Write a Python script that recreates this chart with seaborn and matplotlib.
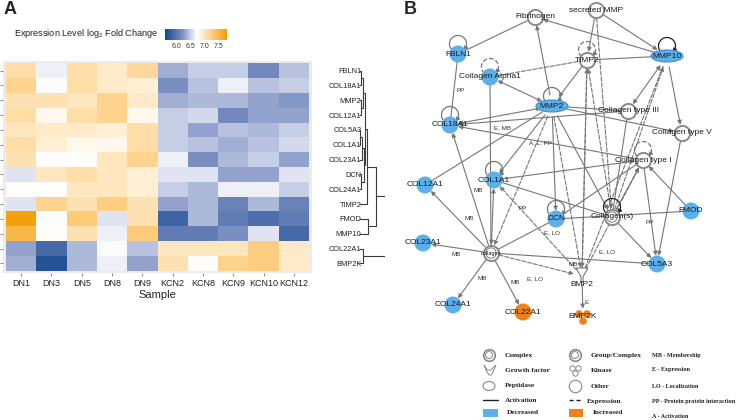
import numpy as np
import pandas as pd
import matplotlib
matplotlib.use('Agg')
import matplotlib.pyplot as plt
import seaborn as sns
from matplotlib.colors import LinearSegmentedColormap
from matplotlib.patches import Arc, Ellipse, Rectangle

# ---------- Panel A data ----------
samples = ['DN1', 'DN3', 'DN5', 'DN8', 'DN9', 'KCN2', 'KCN8', 'KCN9', 'KCN10', 'KCN12']
genes = ['FBLN1', 'COL18A1', 'MMP2', 'COL12A1', 'COL5A3', 'COL1A1', 'COL23A1',
         'DCN', 'COL24A1', 'TIMP2', 'FMOD', 'MMP10', 'COL22A1', 'BMP2K']
expr = [
    [7.10, 6.65, 7.10, 6.95, 7.15, 6.35, 6.50, 6.50, 6.15, 6.45],
    [7.20, 6.70, 7.10, 6.95, 6.90, 6.20, 6.45, 6.65, 6.45, 6.50],
    [7.05, 7.05, 7.00, 7.20, 6.95, 6.35, 6.40, 6.40, 6.30, 6.25],
    [7.10, 6.80, 7.10, 7.20, 6.80, 6.50, 6.55, 6.15, 6.30, 6.30],
    [7.00, 6.95, 6.95, 6.90, 7.10, 6.50, 6.30, 6.45, 6.40, 6.50],
    [7.10, 6.90, 6.80, 6.80, 7.10, 6.50, 6.45, 6.35, 6.45, 6.55],
    [7.05, 6.75, 6.75, 7.00, 7.20, 6.65, 6.20, 6.40, 6.50, 6.30],
    [6.60, 7.00, 7.10, 7.00, 6.90, 6.60, 6.60, 6.30, 6.30, 6.60],
    [6.75, 6.75, 7.00, 7.00, 6.90, 6.50, 6.40, 6.65, 6.65, 6.50],
    [6.60, 7.20, 7.05, 7.25, 7.05, 6.30, 6.40, 6.10, 6.40, 6.10],
    [7.75, 6.70, 7.30, 6.60, 7.05, 5.85, 6.40, 6.05, 5.95, 6.05],
    [7.50, 6.75, 7.05, 6.65, 7.30, 6.05, 6.05, 6.20, 6.60, 5.90],
    [6.30, 5.90, 6.40, 6.70, 6.45, 7.00, 7.00, 7.00, 7.25, 6.95],
    [6.35, 5.70, 6.40, 6.65, 6.30, 7.05, 6.75, 7.20, 7.25, 6.95],
]
cbar_ticks = [6.0, 6.5, 7.0, 7.5]

# dendrogram merges (scipy style: ids >= 14 are earlier merges)
merge_a = [4, 0, 2, 7, 14, 15, 12, 18, 19, 22, 10, 23, 25]
merge_b = [5, 1, 3, 8, 6, 16, 13, 17, 21, 9, 11, 24, 20]
merge_h = [0.3, 0.6, 0.6, 0.8, 1.0, 1.2, 1.3, 1.6, 1.9, 2.6, 3.1, 5.6, 10.0]

# ---------- Panel B data ----------
node_names = ['Fibrinogen', 'secreted MMP', 'FBLN1', 'Collagen Alpha1', 'TIMP2', 'MMP10',
              'MMP2', 'COL18A1', 'Collagen type III', 'Collagen type V', 'Collagen type I',
              'COL1A1', 'COL12A1', 'DCN', 'Collagen(s)', 'FMOD', 'COL23A1', 'collagen',
              'COL5A3', 'BMP2', 'COL24A1', 'COL22A1', 'BMP2K']
node_x = [535, 596, 458, 490, 587, 667, 552, 450, 628, 682, 643,
          494, 425, 556, 612, 691, 423, 491, 657, 582, 453, 523, 583]
node_y = [17, 10, 54, 77, 60, 56, 106, 125, 111, 133, 160,
          180, 185, 219, 217, 211, 243, 253, 264, 276, 305, 312, 317]
node_kind = ['other', 'other', 'dec', 'dec', 'other', 'pep', 'pep', 'dec', 'other', 'other', 'other',
             'dec', 'dec', 'dec', 'group', 'dec', 'dec', 'group', 'dec', 'gf', 'dec', 'inc', 'kin']

edge_src = ['FBLN1', 'FBLN1', 'MMP10', 'MMP2', 'secreted MMP', 'secreted MMP', 'secreted MMP',
            'TIMP2', 'TIMP2', 'Collagen Alpha1', 'Collagen Alpha1', 'Collagen Alpha1', 'MMP2',
            'MMP2', 'MMP2', 'MMP10', 'MMP10', 'Collagen(s)', 'Collagen(s)', 'BMP2',
            'Collagen type III', 'Collagen type III', 'Collagen type I', 'collagen', 'MMP2',
            'COL1A1', 'collagen', 'MMP2', 'COL1A1', 'BMP2', 'collagen', 'collagen', 'collagen',
            'collagen', 'collagen', 'collagen', 'collagen', 'MMP2', 'MMP2', 'DCN', 'DCN', 'MMP2',
            'Collagen(s)', 'Collagen(s)', 'FMOD', 'Collagen type I', 'Collagen type V', 'BMP2',
            'BMP2', 'MMP2', 'TIMP2', 'MMP10']
edge_dst = ['Fibrinogen', 'COL18A1', 'Fibrinogen', 'Fibrinogen', 'MMP10', 'TIMP2', 'Collagen(s)',
            'MMP10', 'MMP2', 'TIMP2', 'MMP2', 'collagen', 'COL18A1',
            'Collagen type V', 'Collagen type III', 'Collagen type III', 'Collagen type V', 'MMP10',
            'TIMP2', 'TIMP2', 'COL18A1', 'Collagen(s)', 'COL18A1', 'COL18A1', 'COL12A1',
            'Collagen type I', 'COL1A1', 'COL1A1', 'Collagen(s)', 'COL1A1', 'COL12A1', 'COL23A1',
            'COL5A3', 'DCN', 'COL24A1', 'COL22A1', 'BMP2', 'collagen', 'DCN', 'Collagen type I',
            'FMOD', 'Collagen(s)', 'Collagen type I', 'COL5A3', 'Collagen type I', 'COL5A3',
            'COL5A3', 'Collagen type I', 'BMP2K', 'BMP2', 'BMP2', 'BMP2']
edge_style = ['-', '-', '->', '->', '->', '->', '-->', '-', '->', '--', '<->', '-', '<->',
              '->', '-', '<->', '->', '-->', '-->', '-->', '->', '-', '->', '->', '-',
              '->', '<->', '->', '-', '-->', '->', '->', '-', '-', '->', '->', '-->', '-->',
              '->', '-', '-', '->', '->', '->', '->', '->', '->', '-->', '->', '-->', '-->', '--']

loop_nodes = ['FBLN1', 'Collagen Alpha1', 'TIMP2', 'MMP2', 'COL18A1', 'MMP10', 'COL1A1',
              'DCN', 'Collagen(s)', 'Collagen type I']
loop_style = ['-', '--', '--', '-', '-', '-', '-', '-', '-', '--']

edge_lbl = ['PP', 'E, MB', 'A, L, PP', 'MB', 'MB', 'PP', 'E, LO', 'MB', 'PP', 'E, LO',
            'MB', 'MB', 'MB', 'E, LO', 'E']
edge_lbl_x = [461, 503, 540, 478, 469, 523, 552, 456, 650, 607, 573, 482, 515, 535, 587]
edge_lbl_y = [90, 128, 143, 190, 219, 208, 233, 255, 222, 252, 265, 279, 283, 279, 302]

legend_col1 = ['Complex', 'Growth factor', 'Peptidase', 'Activation', 'Decreased']
legend_col2 = ['Group/Complex', 'Kinase', 'Other', 'Expression', 'Increased']
legend_col3 = ['MB - Membership', 'E - Expression', 'LO - Localization',
               'PP - Protein protein interaction', 'A - Activation']

# ---------- style ----------
sns.set_theme(style='white')
plt.rcParams['font.family'] = ['Liberation Sans', 'DejaVu Sans']
plt.rcParams['mathtext.default'] = 'regular'

blue = '#5dafe9'
orange = '#f0801c'
edge_col = '#767676'

fig = plt.figure(figsize=(7.41, 4.20), dpi=100)
W, H = 741.0, 420.0

def fax(x0, y0, x1, y1):
    # axes from pixel box (top-left origin)
    return fig.add_axes([x0 / W, 1 - y1 / H, (x1 - x0) / W, (y1 - y0) / H])

# ---------- Panel A: heatmap ----------
ax = fax(3, 61, 312, 273)
cax = fax(165, 29, 227, 40)
cmap = LinearSegmentedColormap.from_list(
    'bo', [(0, '#15468f'), (0.28, '#7d90c2'), (0.51, '#ffffff'), (0.8, '#fdc56a'), (1, '#f29c00')])
df = pd.DataFrame(expr, index=genes, columns=samples)
sns.heatmap(df, ax=ax, cmap=cmap, vmin=5.6, vmax=7.8, linewidths=0,
            xticklabels=True, yticklabels=True,
            cbar_ax=cax, cbar_kws={'orientation': 'horizontal', 'ticks': cbar_ticks})
ax.set_facecolor('#ebebeb')
ax.set_xlim(-0.1, 10.1)
ax.set_ylim(14.15, -0.15)
for s in ax.spines.values():
    s.set_visible(False)
ax.tick_params(axis='x', bottom=True, length=2.5, width=0.6, color='#777', labelsize=6.5, pad=2,
               labelrotation=0, labelcolor='#222')
ax.tick_params(axis='y', left=True, right=False, labelleft=False, labelright=True,
               length=2.5, width=0.6, color='#777', labelsize=5.3, pad=33, labelrotation=0,
               labelcolor='#222')
for t in ax.get_yticklabels():
    t.set_ha('right')
ax.set_xlabel('Sample', fontsize=8, labelpad=1)
ax.set_ylabel('')

cax.tick_params(length=0, labelsize=5, pad=2, labelcolor='#333')
for s in cax.spines.values():
    s.set_visible(False)
fig.text(158 / W, 1 - 34 / H, 'Expression Level log$_2$ Fold Change', ha='right', va='center',
         fontsize=6.6, color='#222')

# dendrogram
dax = fax(359, 61, 385, 273)
n = len(genes)
pos = {i: i + 0.5 for i in range(n)}
hgt = {i: 0.0 for i in range(n)}
for k, (a, b, h) in enumerate(zip(merge_a, merge_b, merge_h)):
    cid = n + k
    for c in (a, b):
        dax.plot([hgt[c], h], [pos[c], pos[c]], color='#3a3a3a', lw=0.8, solid_capstyle='butt')
    dax.plot([h, h], [pos[a], pos[b]], color='#3a3a3a', lw=0.8)
    pos[cid] = (pos[a] + pos[b]) / 2
    hgt[cid] = h
dax.set_xlim(0, 8.6)
dax.set_ylim(14.15, -0.15)
dax.axis('off')

fig.text(4 / W, 1 - 10 / H, 'A', fontsize=13, fontweight='bold', va='center')
fig.text(404 / W, 1 - 10 / H, 'B', fontsize=13, fontweight='bold', va='center')

# ---------- Panel B: network ----------
bx = fax(400, 0, 741, 420)
bx.set_xlim(400, 741)
bx.set_ylim(420, 0)
bx.axis('off')

nodes = pd.DataFrame({'name': node_names, 'x': node_x, 'y': node_y, 'kind': node_kind})
P = {r.name: (r.x, r.y) for r in nodes.itertuples()}
K = dict(zip(node_names, node_kind))

def shrink(name):
    return 8 if K[name] == 'pep' else 6

for s, d, st in zip(edge_src, edge_dst, edge_style):
    ls = '--' if '--' in st else '-'
    if st.startswith('<'):
        arr = '<|-|>'
    elif st.endswith('>'):
        arr = '-|>'
    else:
        arr = '-'
    bx.annotate('', xy=P[d], xytext=P[s],
                arrowprops=dict(arrowstyle=arr, color=edge_col, lw=0.8, ls=ls,
                                shrinkA=shrink(s), shrinkB=shrink(d), mutation_scale=6),
                zorder=1)

for nm, st in zip(loop_nodes, loop_style):
    x, y = P[nm]
    col = '#222' if nm in ('MMP10', 'Collagen(s)') else edge_col
    bx.add_patch(Arc((x, y - 10), 17, 17, theta1=130, theta2=410, color=col, lw=0.9, ls=st, zorder=1))
    ex, ey = x + 8.5 * np.cos(np.radians(50)), y - 10 + 8.5 * np.sin(np.radians(50))
    bx.annotate('', xy=(ex, ey), xytext=(ex + 1.5, ey - 2),
                arrowprops=dict(arrowstyle='-|>', color=col, lw=0.8, mutation_scale=6), zorder=1)

# filled circles
filled = nodes[nodes['kind'].isin(['dec', 'inc'])]
sns.scatterplot(data=filled, x='x', y='y', hue='kind', palette={'dec': blue, 'inc': orange},
                s=150, edgecolor='none', legend=False, ax=bx, zorder=3)
# open / group circles
opn = nodes[nodes['kind'].isin(['other', 'group'])]
bx.scatter(opn['x'], opn['y'], s=120, facecolor='white', edgecolor='#8a8a8a', lw=1.4, zorder=3)
grp = nodes[nodes['kind'] == 'group']
bx.scatter(grp['x'], grp['y'], s=55, facecolor='none', edgecolor='#8a8a8a', lw=0.8, zorder=3)
# peptidase
for r in nodes[nodes['kind'] == 'pep'].itertuples():
    bx.add_patch(Ellipse((r.x, r.y), 32, 12, facecolor=blue, edgecolor='#3c8fd0', lw=0.8, zorder=3))
# growth factor
for r in nodes[nodes['kind'] == 'gf'].itertuples():
    gx = [r.x - 6, r.x - 2, r.x - 1, r.x - 1, r.x + 1, r.x + 1, r.x + 2, r.x + 6]
    gy = [r.y - 8, r.y - 1, r.y + 1, r.y + 6, r.y + 6, r.y + 1, r.y - 1, r.y - 8]
    bx.fill(gx, gy, facecolor='white', edgecolor='#666', lw=0.7, zorder=3)
# kinase
for r in nodes[nodes['kind'] == 'kin'].itertuples():
    bx.scatter([r.x - 4, r.x + 4, r.x], [r.y - 3, r.y - 3, r.y + 4], s=30, color=orange, zorder=3,
               edgecolor='none')

for r in nodes.itertuples():
    ty = r.y + 9 if r.kind == 'gf' else r.y
    fs = 4 if r.name == 'collagen' else 6
    bx.text(r.x, ty, r.name, ha='center', va='center', fontsize=fs, color='#1a1a1a', zorder=4)

for t, x, y in zip(edge_lbl, edge_lbl_x, edge_lbl_y):
    bx.text(x, y, t, ha='center', va='center', fontsize=4.5, color='#333', zorder=4)

# legend
rows_y = [355, 370, 386, 401, 413]
serif = dict(family=['Liberation Serif', 'DejaVu Serif'], fontweight='bold', fontsize=5.3,
             color='#222', va='center')
for i, (t1, t2, t3) in enumerate(zip(legend_col1, legend_col2, legend_col3)):
    y = rows_y[i]
    bx.text(505 if i < 4 else 507, y, t1, **serif)
    bx.text(591 if i < 3 else 587 if i == 3 else 593, y, t2, **serif)
    bx.text(652, y + (3 if i == 4 else 0), t3, **dict(serif, fontsize=4.4))
# legend icons
bx.scatter([489, 575], [355, 355], s=70, facecolor='white', edgecolor='#888', lw=1.2)
bx.scatter([489, 575], [355, 355], s=25, facecolor='none', edgecolor='#888', lw=0.7)
bx.scatter([575], [386], s=80, facecolor='white', edgecolor='#888', lw=0.8)
bx.scatter([572, 578, 575], [368, 368, 373], s=15, facecolor='white', edgecolor='#888', lw=0.7)
bx.fill([484, 487, 489, 491, 493, 496, 491, 487], [365, 372, 375, 375, 372, 365, 370, 370],
        facecolor='white', edgecolor='#888', lw=0.7)
bx.add_patch(Ellipse((489, 386), 12, 9, facecolor='white', edgecolor='#888', lw=0.8))
bx.plot([483, 498], [400, 400], color='#222', lw=1)
bx.plot([569, 583], [400, 400], color='#222', lw=1, ls='--', dashes=(3, 2))
bx.add_patch(Rectangle((483, 409), 15, 8, facecolor=blue, edgecolor='none'))
bx.add_patch(Rectangle((569, 409), 14, 8, facecolor=orange, edgecolor='none'))

fig.savefig('out.png', dpi=100)
